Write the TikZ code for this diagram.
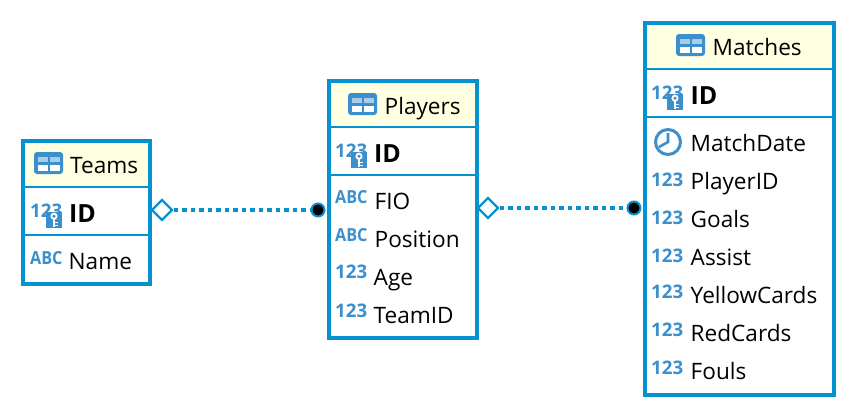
\documentclass[tikz,border=0pt]{standalone}
\usepackage{fontspec}
\setmainfont{Open Sans}
\usetikzlibrary{shapes.geometric,calc}
\definecolor{erline}{RGB}{5,146,208}
\definecolor{ericon}{RGB}{60,143,205}
\definecolor{erhead}{RGB}{255,255,225}
\tikzset{
  x=1pt,y=-1pt,
  erbox/.style={draw=erline,line width=4pt,fill=none,rectangle,inner sep=0pt,anchor=north west},
  erhdr/.style={fill=erhead,draw=none,rectangle,inner sep=0pt,anchor=north west},
  rule/.style={erline,line width=2pt},
  coltext/.style={anchor=base west,inner sep=0pt,yshift=-.6pt,font=\fontsize{22.6}{24}\selectfont,text=black},
  idtext/.style={anchor=base west,inner sep=0pt,font=\fontsize{25}{26}\selectfont\bfseries,text=black},
  numicon/.style={anchor=base west,inner sep=0pt,text=ericon,font=\fontsize{18.7}{20}\selectfont\bfseries},
  abcicon/.style={anchor=base west,inner sep=0pt,text=ericon,font=\fontsize{18}{20}\selectfont\bfseries,xscale=.9},
  diam/.style={diamond,draw=erline,fill=white,line width=2.4pt,minimum width=21pt,minimum height=21pt,inner sep=0pt,aspect=1},
  enddot/.style={circle,draw=erline,fill=black,line width=2pt,minimum size=13pt,inner sep=0pt},
  link/.style={erline,line width=4pt,dash pattern=on 4.5pt off 4pt}
}
\newcommand{\erNum}[2]{\node[numicon] at (#1,#2+5) {123};}
\newcommand{\erAbc}[2]{\node[abcicon] at (#1,#2+4) {ABC};}
\newcommand{\erKey}[2]{%
  \node[numicon] at (#1,#2+4) {123};
  \fill[ericon] (#1+16,#2-1) rectangle (#1+32,#2+15);
  \draw[white,line width=1.8pt] (#1+24,#2+3.2) circle (2.6);
  \draw[white,line width=2pt] (#1+24,#2+6) -- (#1+24,#2+13.5);
  \draw[white,line width=1.4pt] (#1+24,#2+9.5) -- (#1+27.5,#2+9.5) (#1+24,#2+12.5) -- (#1+27.5,#2+12.5);
}
\newcommand{\erTableIcon}[2]{%
  \fill[ericon,rounded corners=3pt] (#1,#2-11) rectangle (#1+29,#2+11);
  \fill[ericon!45!white] (#1+3.5,#2-6.5) rectangle (#1+13.5,#2-1);
  \fill[ericon!45!white] (#1+15.5,#2-6.5) rectangle (#1+25.5,#2-1);
  \fill[white] (#1+3.5,#2+1.5) rectangle (#1+13.5,#2+7.5);
  \fill[white] (#1+15.5,#2+1.5) rectangle (#1+25.5,#2+7.5);
}
\begin{document}
\begin{tikzpicture}
\useasboundingbox[fill=white] (0,0) rectangle (856,416);
\node[diam] (d1) at (162,210) {};
\node[enddot] (e1) at (318,210) {};
\node[diam] (d2) at (488,208) {};
\node[enddot] (e2) at (634,208) {};
\draw[link] (d1) -- (e1);
\draw[link] (d2) -- (e2);

% Teams
\node[erhdr,minimum width=128pt,minimum height=47pt] (thead) at (22,140) {};
\draw[rule] (24,187) -- (148,187);
\draw[rule] (24,235) -- (148,235);
\node[erbox,minimum width=127pt,minimum height=143pt] (teams) at (20.5,138.5) {};
\erTableIcon{34}{163}
\node[coltext] (tn) at (70,173) {Teams};
\erKey{30}{213}
\node[idtext] (t1) at (69,222) {ID};
\erAbc{30}{260}
\node[coltext] (t2) at (68.5,269) {Name};

% Players
\node[erhdr,minimum width=147pt,minimum height=47pt] (phead) at (329,81) {};
\draw[rule] (331,127) -- (475,127);
\draw[rule] (331,175) -- (475,175);
\node[erbox,minimum width=148pt,minimum height=257pt] (players) at (326.5,78.5) {};
\erTableIcon{348}{104}
\node[coltext] (pn) at (384.5,114) {Players};
\erKey{335}{153}
\node[idtext] (p1) at (374,162) {ID};
\erAbc{335}{199}
\node[coltext] (p2) at (374.5,209) {FIO};
\erAbc{335}{237}
\node[coltext] (p3) at (374.5,247) {Position};
\erNum{335}{273}
\node[coltext] (p4) at (373.5,285) {Age};
\erNum{335}{312}
\node[coltext] (p5) at (373.5,323) {TeamID};

% Matches
\node[erhdr,minimum width=188pt,minimum height=47pt] (mhead) at (645,23) {};
\draw[rule] (647,69) -- (832,69);
\draw[rule] (647,117) -- (832,117);
\node[erbox,minimum width=189pt,minimum height=372pt] (matches) at (642.5,20.5) {};
\erTableIcon{676}{45}
\node[coltext] (mn) at (712.5,55) {Matches};
\erKey{651}{95}
\node[idtext] (m1) at (690.5,104) {ID};
\draw[ericon,line width=3pt] (668,142) circle (12.5);
\draw[ericon,line width=2.6pt,line join=miter] (668,133) -- (668,142) -- (659,147);
\node[coltext] (m2) at (690.5,151) {MatchDate};
\erNum{651}{181}
\node[coltext] (m3) at (690.5,189) {PlayerID};
\erNum{651}{219}
\node[coltext] (m4) at (690.5,227) {Goals};
\erNum{651}{257}
\node[coltext] (m5) at (690.5,265) {Assist};
\erNum{651}{293}
\node[coltext] (m6) at (690.5,303) {YellowCards};
\erNum{651}{331}
\node[coltext] (m7) at (690.5,341) {RedCards};
\erNum{651}{369}
\node[coltext] (m8) at (690.5,379) {Fouls};
\end{tikzpicture}
\end{document}
